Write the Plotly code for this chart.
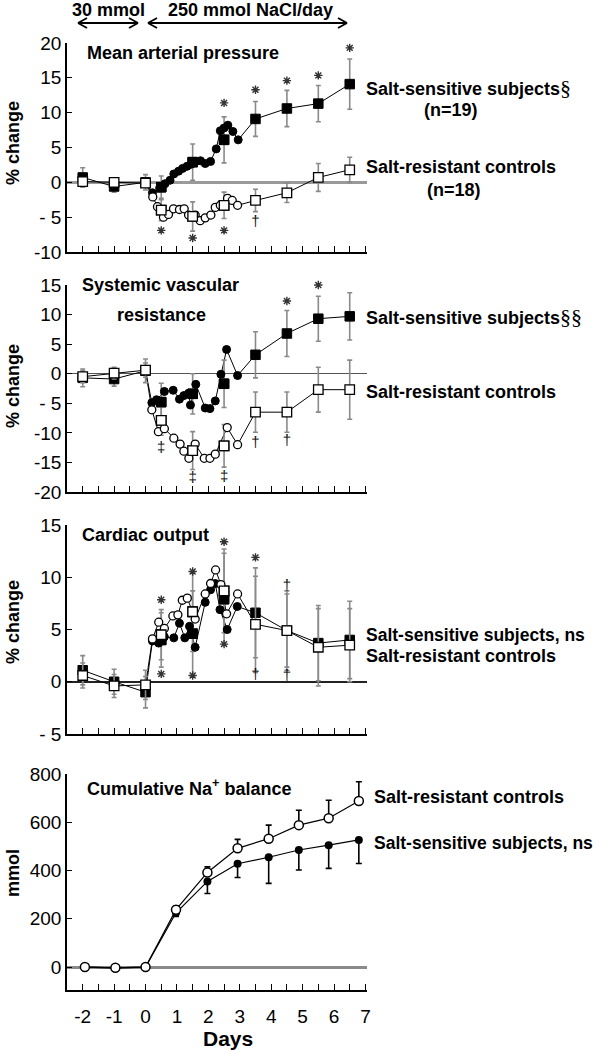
import plotly.graph_objects as go

# ---------------- data ----------------
sq_days = [-2, -1, 0, 0.5, 1.5, 2.5, 3.5, 4.5, 5.5, 6.5]

# Panel 1: Mean arterial pressure (% change)
map_ss_sq = [0.7, -0.6, 0.0, -0.7, 2.9, 6.1, 9.1, 10.6, 11.3, 14.1]
map_ss_err = [1.4, 0.8, 1.1, 1.6, 2.6, 3.3, 2.5, 2.6, 2.6, 3.6]
map_sr_sq = [0.1, 0.0, -0.1, -4.0, -4.9, -3.3, -2.6, -1.5, 0.7, 1.8]
map_sr_err = [0.5, 0.5, 0.6, 1.5, 2.1, 1.9, 1.6, 1.4, 2.0, 1.8]
map_ss_c_days = [0.22, 0.45, 0.62, 0.78, 0.9, 1.05, 1.18, 1.32, 1.45, 1.6, 1.75, 1.9, 2.07, 2.25, 2.38, 2.5, 2.62, 2.78, 2.95]
map_ss_c = [-1.5, -0.8, -0.2, 0.3, 1.2, 1.6, 2.0, 2.3, 2.6, 3.0, 3.1, 2.7, 3.0, 4.8, 7.4, 7.8, 8.2, 7.3, 6.1]
map_sr_c_days = [0.23, 0.38, 0.57, 0.73, 0.89, 1.08, 1.23, 1.37, 1.58, 1.74, 1.9, 2.08, 2.22, 2.38, 2.61, 2.76, 2.93]
map_sr_c = [-2.1, -3.5, -5.0, -4.6, -3.8, -3.9, -3.8, -4.7, -4.7, -5.5, -5.1, -4.7, -3.6, -3.3, -2.3, -2.6, -3.3]
map_star_days = [2.5, 3.5, 4.5, 5.5, 6.5, 0.5, 1.5, 2.5]
map_star_vals = [11.4, 13.3, 14.6, 15.35, 19.3, -6.9, -8.0, -6.9]
map_dag_days = [3.5]
map_dag_vals = [-5.7]
map_dag_text = ["†"]

# Panel 2: Systemic vascular resistance (% change)
svr_ss_sq = [-0.7, -0.9, 0.5, -4.8, -3.4, -1.7, 3.2, 6.8, 9.3, 9.7]
svr_ss_err = [1.5, 1.2, 2.0, 3.2, 3.4, 4.0, 3.9, 3.9, 3.8, 4.0]
svr_sr_sq = [-0.5, 0.1, 0.6, -7.9, -13.0, -12.2, -6.5, -6.5, -2.7, -2.7]
svr_sr_err = [1.0, 1.0, 1.2, 2.5, 3.2, 3.6, 3.4, 3.4, 3.8, 5.0]
svr_ss_c_days = [0.2, 0.35, 0.6, 0.88, 1.08, 1.22, 1.37, 1.43, 1.6, 1.9, 2.05, 2.22, 2.4, 2.58, 2.93]
svr_ss_c = [-4.9, -4.4, -3.0, -2.8, -4.3, -3.7, -3.3, -5.3, -1.8, -5.8, -5.9, -4.6, -0.1, 4.1, -0.3]
svr_sr_c_days = [0.2, 0.41, 0.6, 0.9, 1.1, 1.22, 1.38, 1.58, 1.87, 2.05, 2.22, 2.6, 2.93]
svr_sr_c = [-6.1, -9.8, -9.3, -10.9, -11.9, -13.1, -14.3, -11.9, -14.3, -14.3, -13.6, -9.1, -12.0]
svr_star_days = [4.5, 5.5, 6.5]
svr_star_vals = [12.3, 15.0, 15.3]
svr_dag_days = [0.5, 1.5, 2.5, 3.5, 4.5]
svr_dag_vals = [-12.6, -17.6, -17.5, -11.7, -11.5]
svr_dag_text = ["‡", "‡", "‡", "†", "†"]

# Panel 3: Cardiac output (% change)
co_ss_sq = [1.1, 0.0, -1.0, 4.0, 4.6, 7.9, 6.6, 4.9, 3.7, 4.0]
co_ss_err = [1.4, 1.2, 1.5, 2.6, 4.1, 4.4, 4.3, 3.5, 3.6, 3.7]
co_sr_sq = [0.6, -0.4, -0.3, 4.5, 6.7, 8.7, 5.5, 4.9, 3.3, 3.5]
co_sr_err = [1.2, 1.1, 1.4, 2.4, 3.8, 4.0, 4.6, 3.8, 3.7, 3.5]
co_ss_c_days = [0.22, 0.42, 0.6, 0.9, 1.08, 1.25, 1.4, 1.47, 1.58, 1.9, 2.07, 2.22, 2.37, 2.6, 2.92]
co_ss_c = [3.9, 3.7, 4.3, 4.2, 5.6, 4.2, 5.3, 4.6, 3.3, 7.6, 8.8, 9.4, 6.9, 5.0, 7.2]
co_sr_c_days = [0.22, 0.42, 0.6, 0.87, 1.03, 1.17, 1.33, 1.58, 1.9, 2.07, 2.23, 2.4, 2.58, 2.93]
co_sr_c = [4.1, 5.7, 5.1, 6.3, 6.4, 7.8, 8.0, 6.0, 8.4, 9.4, 10.7, 9.3, 6.5, 8.4]
co_star_days = [0.5, 1.5, 2.5, 3.5, 0.5, 1.5, 2.5]
co_star_vals = [7.85, 10.55, 13.4, 11.9, 0.75, 0.6, 3.6]
co_dag_days = [4.5, 3.5, 4.5]
co_dag_vals = [9.1, 0.67, 0.5]
co_dag_text = ["†", "†", "†"]

# Panel 4: Cumulative Na+ balance (mmol)
na_days = [-1.93, -0.96, 0.0, 0.97, 1.97, 2.93, 3.92, 4.88, 5.83, 6.79]
na_sr = [0, -3, 0, 238, 392, 492, 532, 588, 617, 688]
na_sr_err_up = [0, 0, 0, 15, 23, 37, 56, 62, 74, 80]
na_ss = [0, -3, 0, 225, 355, 428, 455, 485, 505, 527]
na_ss_err_down = [0, 0, 0, 15, 50, 57, 108, 83, 96, 98]

x_ticks = [-2 + 0.5 * i for i in range(19)]
x_ticktext = [str(int(v)) if float(v).is_integer() else "" for v in x_ticks]

# ---------------- layout helpers ----------------
W, H = 601, 1050
ML, MR, MT, MB = 67, 234, 43, 60
PW = W - ML - MR
PH = H - MT - MB


def fx(px):
    return (px - ML) / PW


def fy(py):
    return (H - MB - py) / PH


FONT = "Liberation Sans, Arial, Helvetica, sans-serif"
panels_px = [(43, 252), (285, 492), (525, 734), (774, 990)]

fig = go.Figure()

SQ = 9.5
CI = 8
ERRC = "#8a8a8a"


def add_panel(i, ss_sq, ss_err, sr_sq, sr_err, ss_c_d, ss_c, sr_c_d, sr_c,
              star_d, star_v, dag_d, dag_v, dag_t):
    xa = "x" if i == 1 else f"x{i}"
    ya = "y" if i == 1 else f"y{i}"
    for sq, cd, cv in ((ss_sq, ss_c_d, ss_c), (sr_sq, sr_c_d, sr_c)):
        lx = sq_days[:3] + cd + sq_days[6:]
        ly = sq[:3] + cv + sq[6:]
        fig.add_trace(go.Scatter(x=lx, y=ly, mode="lines", xaxis=xa, yaxis=ya,
                                 line=dict(color="black", width=1), showlegend=False,
                                 hoverinfo="skip"))
    fig.add_trace(go.Scatter(x=sq_days, y=ss_sq, mode="markers", xaxis=xa, yaxis=ya,
                             marker=dict(symbol="square", size=SQ, color="black",
                                         line=dict(color="black", width=1)),
                             error_y=dict(type="data", array=ss_err, color=ERRC,
                                          thickness=1.6, width=2.5),
                             showlegend=False))
    fig.add_trace(go.Scatter(x=sq_days, y=sr_sq, mode="markers", xaxis=xa, yaxis=ya,
                             marker=dict(symbol="square", size=SQ, color="white",
                                         line=dict(color="black", width=1.3)),
                             error_y=dict(type="data", array=sr_err, color=ERRC,
                                          thickness=1.6, width=2.5),
                             showlegend=False))
    fig.add_trace(go.Scatter(x=ss_c_d, y=ss_c, mode="markers", xaxis=xa, yaxis=ya,
                             marker=dict(symbol="circle", size=CI, color="black",
                                         line=dict(color="black", width=1)),
                             showlegend=False))
    fig.add_trace(go.Scatter(x=sr_c_d, y=sr_c, mode="markers", xaxis=xa, yaxis=ya,
                             marker=dict(symbol="circle", size=CI, color="white",
                                         line=dict(color="black", width=1.3)),
                             showlegend=False))
    fig.add_trace(go.Scatter(x=sq_days[3:6], y=ss_sq[3:6], mode="markers", xaxis=xa, yaxis=ya,
                             marker=dict(symbol="square", size=SQ, color="black",
                                         line=dict(color="black", width=1)),
                             showlegend=False))
    fig.add_trace(go.Scatter(x=sq_days[3:6], y=sr_sq[3:6], mode="markers", xaxis=xa, yaxis=ya,
                             marker=dict(symbol="square", size=SQ, color="white",
                                         line=dict(color="black", width=1.3)),
                             showlegend=False))
    fig.add_trace(go.Scatter(x=star_d, y=star_v, mode="markers", xaxis=xa, yaxis=ya,
                             marker=dict(symbol="asterisk-open", size=7, color="#333333",
                                         line=dict(color="#333333", width=1.4)),
                             cliponaxis=False, showlegend=False))
    if dag_d:
        fig.add_trace(go.Scatter(x=dag_d, y=dag_v, mode="text", text=dag_t, xaxis=xa, yaxis=ya,
                                 textfont=dict(family=FONT, size=15, color="#111111"),
                                 cliponaxis=False, showlegend=False))


add_panel(1, map_ss_sq, map_ss_err, map_sr_sq, map_sr_err, map_ss_c_days, map_ss_c,
          map_sr_c_days, map_sr_c, map_star_days, map_star_vals, map_dag_days, map_dag_vals, map_dag_text)
add_panel(2, svr_ss_sq, svr_ss_err, svr_sr_sq, svr_sr_err, svr_ss_c_days, svr_ss_c,
          svr_sr_c_days, svr_sr_c, svr_star_days, svr_star_vals, svr_dag_days, svr_dag_vals, svr_dag_text)
add_panel(3, co_ss_sq, co_ss_err, co_sr_sq, co_sr_err, co_ss_c_days, co_ss_c,
          co_sr_c_days, co_sr_c, co_star_days, co_star_vals, co_dag_days, co_dag_vals, co_dag_text)

# Panel 4
fig.add_trace(go.Scatter(x=na_days, y=na_ss, mode="lines+markers", xaxis="x4", yaxis="y4",
                         line=dict(color="black", width=1.2),
                         marker=dict(symbol="circle", size=8, color="black"),
                         error_y=dict(type="data", symmetric=False, array=[0] * len(na_ss),
                                      arrayminus=na_ss_err_down, color="black", thickness=1.6, width=3),
                         showlegend=False))
fig.add_trace(go.Scatter(x=na_days, y=na_sr, mode="lines+markers", xaxis="x4", yaxis="y4",
                         line=dict(color="black", width=1.2),
                         marker=dict(symbol="circle", size=9, color="white",
                                     line=dict(color="black", width=1.5)),
                         error_y=dict(type="data", symmetric=False, array=na_sr_err_up,
                                      arrayminus=[0] * len(na_sr), color="black", thickness=1.6, width=3),
                         showlegend=False))

# ---------------- axes ----------------
yranges = [[-10, 20], [-20, 15], [-5, 15], [-95, 800]]
yticks = [
    ([-10, -5, 0, 5, 10, 15, 20], ["-10", "- 5", "0", "5", "10", "15", "20"]),
    ([-20, -15, -10, -5, 0, 5, 10, 15], ["-20", "-15", "-10", "- 5", "0", "5", "10", "15"]),
    ([-5, 0, 5, 10, 15], ["- 5", "0", "5", "10", "15"]),
    ([0, 200, 400, 600, 800], ["0", "200", "400", "600", "800"]),
]
zl = [("#9a9a9a", 2.5), ("#555555", 1.3), ("#222222", 1.6), ("#8a8a8a", 2.5)]

layout_axes = {}
for i in range(1, 5):
    top, bot = panels_px[i - 1]
    xk = "xaxis" if i == 1 else f"xaxis{i}"
    yk = "yaxis" if i == 1 else f"yaxis{i}"
    ya = "y" if i == 1 else f"y{i}"
    xa = "x" if i == 1 else f"x{i}"
    layout_axes[xk] = dict(
        domain=[0, 1], anchor=ya, range=[-2.5, 7.05], showline=True, linecolor="black",
        linewidth=1.5, ticks="inside", ticklen=6, tickwidth=1.2, tickcolor="black",
        tickvals=x_ticks, ticktext=x_ticktext, showticklabels=(i == 4),
        tickfont=dict(family=FONT, size=19, color="black"), ticklabelstandoff=8,
        showgrid=False, zeroline=False, fixedrange=True)
    layout_axes[yk] = dict(
        domain=[fy(bot), fy(top)], anchor=xa, range=yranges[i - 1], showline=True,
        linecolor="black", linewidth=1.5, ticks="inside", ticklen=5, tickwidth=1.2,
        tickcolor="black", tickvals=yticks[i - 1][0], ticktext=yticks[i - 1][1],
        tickfont=dict(family=FONT, size=19, color="black"), showgrid=False,
        zeroline=True, zerolinecolor=zl[i - 1][0], zerolinewidth=zl[i - 1][1], fixedrange=True)

# ---------------- annotations ----------------
ann = []


def txt(s, px, py, size=18, xanchor="left", angle=0, bold=True):
    ann.append(dict(text=f"<b>{s}</b>" if bold else s, x=fx(px), y=fy(py), xref="paper", yref="paper",
                    xanchor=xanchor, yanchor="middle", showarrow=False, textangle=angle,
                    font=dict(family=FONT, size=size, color="black")))


SEC = "<span style='font-family:Liberation Serif, Times New Roman, serif;font-weight:normal;font-size:22px'>§</span>"
txt("30 mmol", 108, 10, xanchor="center")
txt("250 mmol NaCl/day", 250, 10, xanchor="center")

txt("Mean arterial pressure", 85, 53)
txt("Systemic vascular", 160, 285, xanchor="center")
txt("resistance", 161, 315, xanchor="center")
txt("Cardiac output", 80, 535)
txt("Cumulative Na<sup>+</sup> balance", 85, 787)

txt("Salt-sensitive subjects" + SEC, 364, 87)
txt("(n=19)", 422, 110)
txt("Salt-resistant controls", 364, 167)
txt("(n=18)", 425, 190)
txt("Salt-sensitive subjects" + SEC + SEC, 364, 317)
txt("Salt-resistant controls", 364, 392)
txt("Salt-sensitive subjects, ns", 364, 635, size=17.5)
txt("Salt-resistant controls", 364, 656)
txt("Salt-resistant controls", 372, 797)
txt("Salt-sensitive subjects, ns", 372, 843, size=17.5)

txt("% change", 13, 143, xanchor="center", angle=-90)
txt("% change", 13, 386, xanchor="center", angle=-90)
txt("% change", 13, 622, xanchor="center", angle=-90)
txt("mmol", 13, 873, xanchor="center", angle=-90)
txt("Days", 228, 1038, size=21, xanchor="center")

shapes = []


def seg(x0, y0, x1, y1):
    shapes.append(dict(type="line", xref="paper", yref="paper", x0=fx(x0), y0=fy(y0),
                       x1=fx(x1), y1=fy(y1), line=dict(color="black", width=1.8)))


for a, b in ((78, 138), (148, 347)):
    seg(a, 23, b, 23)
    seg(a, 23, a + 9, 18)
    seg(a, 23, a + 9, 28)
    seg(b, 23, b - 9, 18)
    seg(b, 23, b - 9, 28)

fig.update_layout(
    width=W, height=H, margin=dict(l=ML, r=MR, t=MT, b=MB, autoexpand=False),
    paper_bgcolor="white", plot_bgcolor="white", showlegend=False,
    annotations=ann, shapes=shapes, **layout_axes)

fig.write_html("out.html", config={"displayModeBar": False},
               post_script="document.body.style.margin='0';document.body.style.overflow='hidden';")
